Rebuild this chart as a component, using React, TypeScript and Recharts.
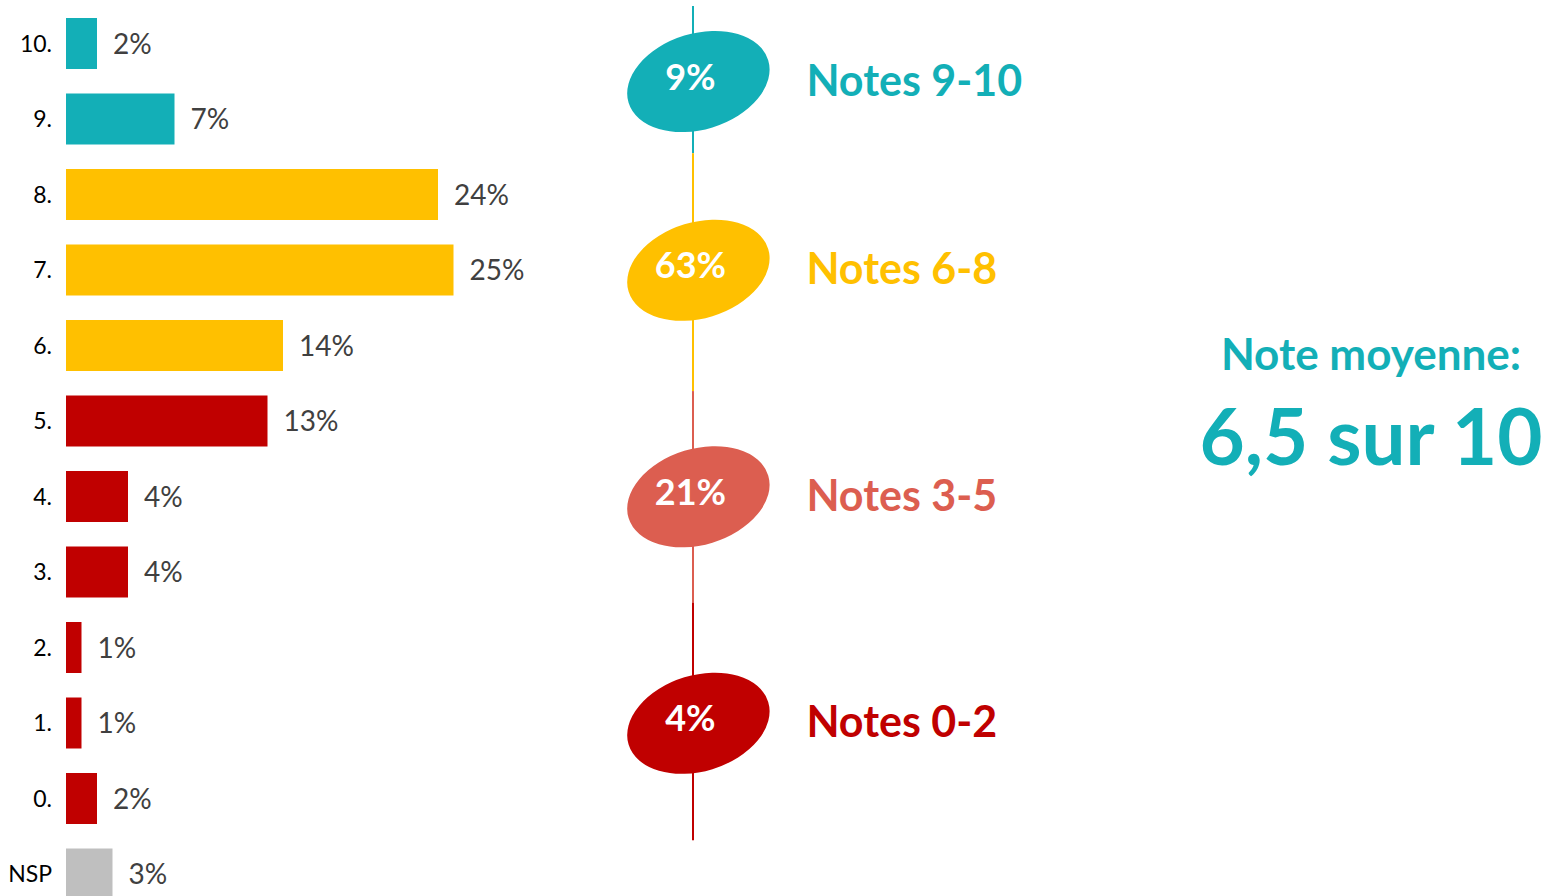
import React from 'react';
import {
  ComposedChart,
  Bar,
  XAxis,
  YAxis,
  Cell,
  LabelList,
  ScatterChart,
  Scatter,
  ReferenceLine,
} from 'recharts';

// ---------- data ----------
const categories = ['10.', '9.', '8.', '7.', '6.', '5.', '4.', '3.', '2.', '1.', '0.', 'NSP'];
const shares = [2, 7, 24, 25, 14, 13, 4, 4, 1, 1, 2, 3];
const barColors = [
  '#13AFB7', '#13AFB7',
  '#FFC000', '#FFC000', '#FFC000',
  '#C00000', '#C00000', '#C00000',
  '#C00000', '#C00000', '#C00000',
  '#BFBFBF',
];

const groupNames = ['Notes 9-10', 'Notes 6-8', 'Notes 3-5', 'Notes 0-2'];
const groupShares = [9, 63, 21, 4];
const groupMembers = [
  ['10.', '9.'],
  ['8.', '7.', '6.'],
  ['5.', '4.', '3.'],
  ['2.', '1.', '0.'],
];
const groupColors = ['#13AFB7', '#FFC000', '#DC5E50', '#C00000'];
// where the vertical connector changes colour (in row-index units)
const lineBreaks = [-0.5, 1.45, 4.6, 7.4, 10.55];

const averageTitle = 'Note moyenne:';
const averageValue = '6,5 sur 10';

// ---------- layout ----------
const W = 1559;
const H = 920;
const MARGIN = { top: 6, right: 5, bottom: 8, left: 0 };
const AXIS_W = 66;
const X_MAX = 96;
const MARKER_X = 40.8;
const LINE_X = 40.45;
const FONT = 'Lato, "Open Sans", sans-serif';

const rows = categories.map((label, i) => ({ label, value: shares[i], color: barColors[i] }));

const groupPoints = groupNames.map((name, g) => {
  const idx = groupMembers[g].map((c) => categories.indexOf(c));
  const mid = idx.reduce((a, b) => a + b, 0) / idx.length;
  return { x: MARKER_X, y: mid, name, share: groupShares[g], color: groupColors[g] };
});

const segments = groupColors.map((color, i) => ({
  color,
  from: lineBreaks[i],
  to: lineBreaks[i + 1],
}));

const GroupMarker = (props: any) => {
  const { cx, cy, payload } = props;
  if (cx == null || cy == null) return null;
  return (
    <g>
      <ellipse
        cx={cx}
        cy={cy}
        rx={73}
        ry={48}
        fill={payload.color}
        transform={`rotate(-17 ${cx} ${cy})`}
      />
      <text
        x={cx - 8}
        y={cy + 8}
        textAnchor="middle"
        fill="#FFFFFF"
        fontFamily={FONT}
        fontWeight={700}
        fontSize={36}
      >
        {payload.share}%
      </text>
      <text
        x={cx + 108}
        y={cy + 14}
        textAnchor="start"
        fill={payload.color}
        fontFamily={FONT}
        fontWeight={700}
        fontSize={43}
      >
        {payload.name}
      </text>
    </g>
  );
};

const ValueLabel = (props: any) => {
  const { x, y, width, height, value } = props;
  return (
    <text
      x={x + width + 16}
      y={y + height / 2 + 10}
      textAnchor="start"
      fill="#404040"
      fontFamily={FONT}
      fontSize={28}
    >
      {value}%
    </text>
  );
};

export default function App() {
  return (
    <div
      style={{
        position: 'absolute',
        left: 0,
        top: 0,
        width: W,
        height: 896,
        overflow: 'hidden',
        background: '#FFFFFF',
        fontFamily: FONT,
      }}
    >
      <div style={{ position: 'absolute', left: 0, top: 0 }}>
        <ComposedChart width={W} height={H} data={rows} layout="vertical" margin={MARGIN}>
          <XAxis type="number" hide domain={[0, X_MAX]} allowDataOverflow />
          <YAxis
            type="category"
            dataKey="label"
            width={AXIS_W}
            axisLine={false}
            tickLine={false}
            tickSize={0}
            tickMargin={14}
            interval={0}
            tick={{ fontSize: 23, fill: '#000000', fontFamily: FONT }}
          />
          <Bar dataKey="value" barSize={51} isAnimationActive={false}>
            {rows.map((r, i) => (
              <Cell key={i} fill={r.color} />
            ))}
            <LabelList dataKey="value" content={ValueLabel} />
          </Bar>
        </ComposedChart>
      </div>

      <div style={{ position: 'absolute', left: 0, top: 0 }}>
        <ScatterChart
          width={W}
          height={H}
          margin={{ top: MARGIN.top, right: MARGIN.right, bottom: MARGIN.bottom, left: AXIS_W }}
        >
          <XAxis type="number" dataKey="x" hide domain={[0, X_MAX]} allowDataOverflow />
          <YAxis
            type="number"
            dataKey="y"
            hide
            reversed
            domain={[-0.5, categories.length - 0.5]}
            allowDataOverflow
          />
          {segments.map((s, i) => (
            <ReferenceLine
              key={i}
              segment={[
                { x: LINE_X, y: s.from },
                { x: LINE_X, y: s.to },
              ]}
              stroke={s.color}
              strokeWidth={2}
            />
          ))}
          <Scatter data={groupPoints} shape={GroupMarker} isAnimationActive={false} />
        </ScatterChart>
      </div>

      <svg
        width={W}
        height={896}
        style={{ position: 'absolute', left: 0, top: 0, pointerEvents: 'none' }}
      >
        <text
          x={1371}
          y={370}
          textAnchor="middle"
          fill="#13AFB7"
          fontFamily={FONT}
          fontWeight={700}
          fontSize={44}
        >
          {averageTitle}
        </text>
        <text
          x={1371}
          y={465}
          textAnchor="middle"
          fill="#13AFB7"
          fontFamily={FONT}
          fontWeight={700}
          fontSize={78}
        >
          {averageValue}
        </text>
      </svg>
    </div>
  );
}
